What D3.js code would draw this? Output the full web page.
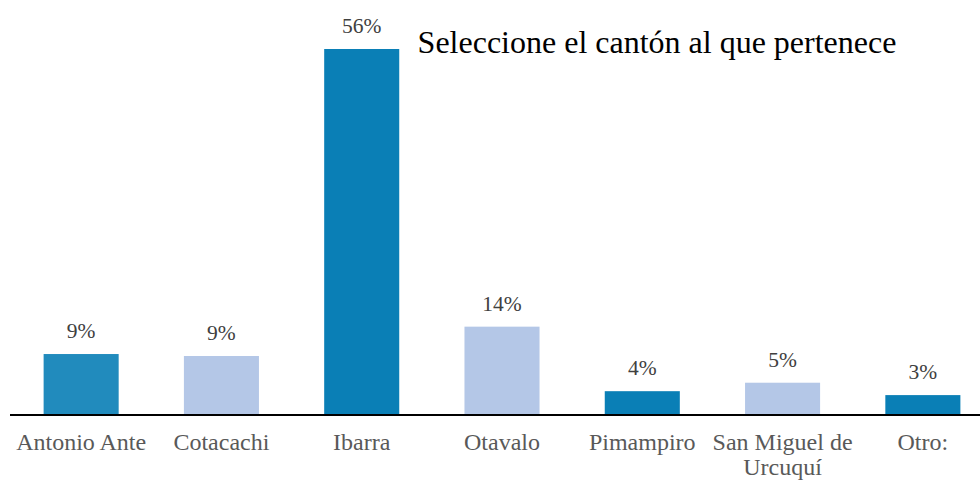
<!DOCTYPE html>
<html>
<head>
<meta charset="utf-8">
<script src="https://cdn.jsdelivr.net/npm/d3@7"></script>
<style>
  body { margin: 0; background: #fff; }
  text { font-family: "Liberation Serif", "Times New Roman", serif; }
</style>
</head>
<body>
<div id="chart"></div>
<script>
// data
const categories = ["Antonio Ante", "Cotacachi", "Ibarra", "Otavalo", "Pimampiro", "San Miguel de Urcuquí", "Otro:"];
const values = [9.2, 8.9, 56, 13.4, 3.5, 4.8, 2.9];
const valueLabels = ["9%", "9%", "56%", "14%", "4%", "5%", "3%"];
const barColors = ["#218bbd", "#b4c7e7", "#0a7fb6", "#b4c7e7", "#0a7fb6", "#b4c7e7", "#0a7fb6"];
const title = "Seleccione el cantón al que pertenece";

const width = 980, height = 480;
const baseline = 414;

const svg = d3.select("#chart").append("svg")
    .attr("width", width)
    .attr("height", height);

const data = categories.map((c, i) => ({cat: c, value: values[i], label: valueLabels[i], color: barColors[i]}));

// scales
const x = d3.scaleBand()
    .domain(categories)
    .range([11, 993])
    .paddingInner(0.465)
    .paddingOuter(0.2325);

const y = d3.scaleLinear()
    .domain([0, 56])
    .range([baseline, 49]);

// bars
svg.selectAll("rect.bar")
    .data(data)
    .enter()
    .append("rect")
    .attr("class", "bar")
    .attr("x", d => x(d.cat))
    .attr("width", x.bandwidth())
    .attr("y", d => y(d.value))
    .attr("height", d => baseline - y(d.value))
    .attr("fill", d => d.color);

// value labels
svg.selectAll("text.val")
    .data(data)
    .enter()
    .append("text")
    .attr("class", "val")
    .attr("x", d => x(d.cat) + x.bandwidth() / 2)
    .attr("y", d => y(d.value) - 16)
    .attr("text-anchor", "middle")
    .attr("font-size", 21.5)
    .attr("fill", "#404040")
    .text(d => d.label);

// x axis line
svg.append("line")
    .attr("x1", 10).attr("x2", width)
    .attr("y1", baseline + 1).attr("y2", baseline + 1)
    .attr("stroke", "#000")
    .attr("stroke-width", 2);

// category labels (wrap the long one)
const catLabels = svg.selectAll("text.cat")
    .data(data)
    .enter()
    .append("text")
    .attr("class", "cat")
    .attr("x", d => x(d.cat) + x.bandwidth() / 2)
    .attr("y", 450)
    .attr("text-anchor", "middle")
    .attr("font-size", 24)
    .attr("fill", "#595959");

catLabels.each(function(d) {
    const t = d3.select(this);
    const lines = d.cat === "San Miguel de Urcuquí" ? ["San Miguel de", "Urcuquí"] : [d.cat];
    lines.forEach((l, i) => {
        t.append("tspan")
            .attr("x", x(d.cat) + x.bandwidth() / 2)
            .attr("dy", i === 0 ? 0 : 25)
            .text(l);
    });
});

// title
svg.append("text")
    .attr("x", 657)
    .attr("y", 53)
    .attr("text-anchor", "middle")
    .attr("font-size", 32)
    .attr("fill", "#000")
    .text(title);
</script>
</body>
</html>
